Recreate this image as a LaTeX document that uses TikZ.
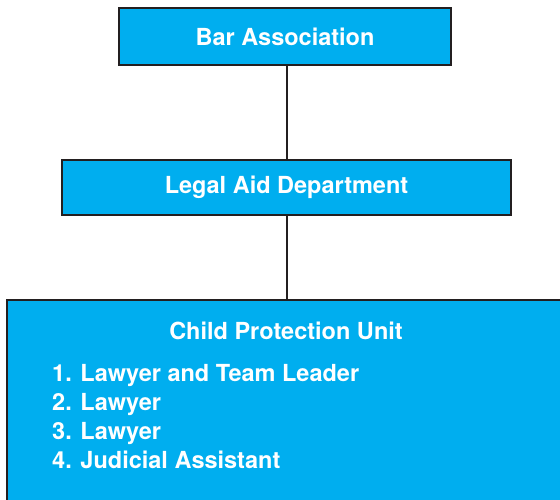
\documentclass[tikz,border=0pt]{standalone}
\usepackage{fontspec}
\setmainfont{TeX Gyre Heros}
\usepackage{tikz}

\definecolor{unitblue}{HTML}{00AEEF}
\definecolor{edgegray}{HTML}{231F20}

\tikzset{
  unitbox/.style={draw=edgegray, line width=2pt, fill=unitblue, text=white,
    font=\fontsize{23.5}{27}\selectfont\bfseries, inner sep=0pt},
  unittext/.style={text=white, font=\fontsize{23.5}{29}\selectfont\bfseries, inner sep=0pt},
}

\begin{document}
\begin{tikzpicture}[x=1pt,y=1pt]
  \useasboundingbox (0,0) rectangle (560,500);
  \clip (0,0) rectangle (560,500);

  \node[unitbox, minimum width=332, minimum height=57] (bar) at (285,463.5) {Bar Association};
  \node[unitbox, minimum width=449, minimum height=55] (legalaid) at (286.5,312.5) {Legal Aid Department};
  \node[unitbox, minimum width=580, minimum height=230] (cpu) at (297,85) {};

  \node[unittext] (cputitle) at (286,169.5) {Child Protection Unit};
  \node[unittext, anchor=north west, align=left] (staff) at (52,136)
    {1. Lawyer and Team Leader\\2. Lawyer\\3. Lawyer\\4. Judicial Assistant};

  \draw[edgegray, line width=2pt] ([xshift=2pt]bar.south) -- ([xshift=2pt]bar.south |- legalaid.north);
  \draw[edgegray, line width=2pt] ([xshift=0.5pt]legalaid.south) -- ([xshift=0.5pt]legalaid.south |- cpu.north);
\end{tikzpicture}
\end{document}
